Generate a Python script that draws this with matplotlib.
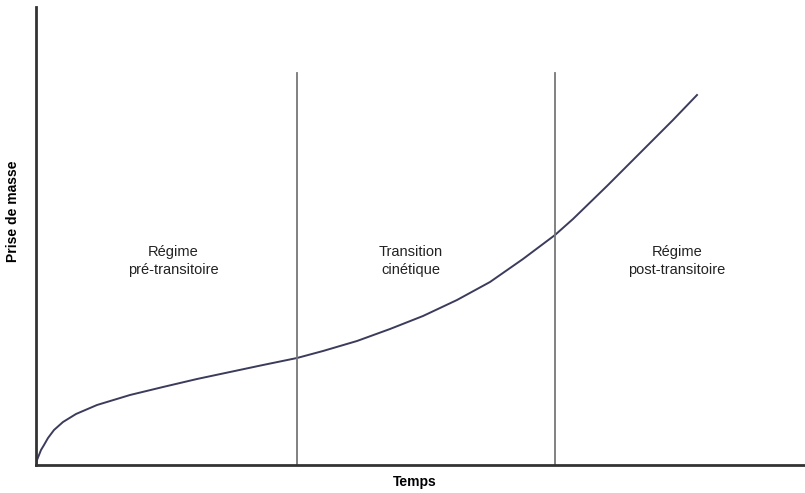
import matplotlib.pyplot as plt
import numpy as np

plt.rcParams['font.family'] = ['Liberation Sans', 'DejaVu Sans']

# curve (time, mass gain), arbitrary units
temps = [0, 1, 3, 5, 8, 12, 18, 27, 40, 61, 94, 127, 161, 194, 227, 261, 287, 321, 354, 387, 421, 454, 487, 519, 537, 571, 604, 637, 661]
masse = [0, 5, 10, 15, 20, 27, 35, 43, 51, 60, 70, 78, 86, 93, 100, 107, 114, 124, 136, 149, 165, 183, 206, 230, 246, 279, 312, 345, 370]
# phase boundaries
limites = [261, 519]
lim_haut = 392
regions = [("Régime\npré-transitoire", 137), ("Transition\ncinétique", 375), ("Régime\npost-transitoire", 641)]

fig = plt.figure(figsize=(8.05, 4.93), dpi=100)
ax = fig.add_axes([36 / 805, 28 / 493, 769 / 805, 458 / 493])

ax.plot(temps, masse, color='#3b3b5c', lw=1.4)
for x in limites:
    ax.plot([x, x], [0, lim_haut], color='#777777', lw=1.3)
for txt, x in regions:
    ax.text(x, 204, txt, ha='center', va='center', fontsize=10.5, linespacing=1.45, color='#222222')

ax.set_xlim(0, 769)
ax.set_ylim(0, 458)
ax.set_xticks([])
ax.set_yticks([])
for s in ['top', 'right']:
    ax.spines[s].set_visible(False)
for s in ['left', 'bottom']:
    ax.spines[s].set_linewidth(2)
    ax.spines[s].set_color('#333333')

fig.text(415 / 805, 1 - 482 / 493, "Temps", ha='center', va='center', fontsize=10, fontweight='bold')
fig.text(13 / 805, 1 - 211 / 493, "Prise de masse", ha='center', va='center', rotation=90, fontsize=10, fontweight='bold')

fig.savefig('out.png', dpi=100)
